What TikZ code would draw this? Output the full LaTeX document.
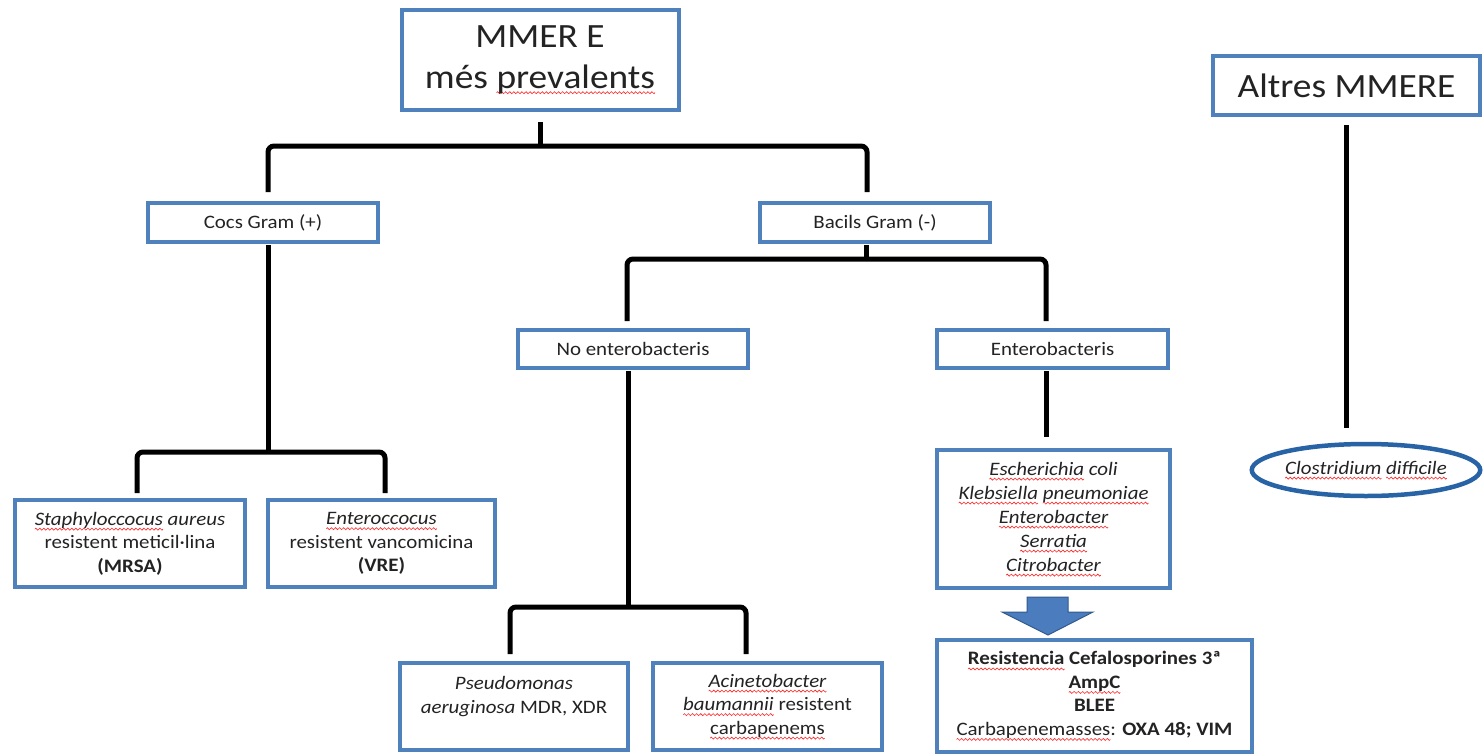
\documentclass[tikz,border=0pt]{standalone}
\usepackage{fontspec}
\setmainfont{Carlito}[FakeStretch=1.1]
\usetikzlibrary{shapes.geometric}
\definecolor{boxblue}{RGB}{79,129,189}
\definecolor{ellblue}{RGB}{40,100,165}
\definecolor{arrfill}{RGB}{75,125,190}
\definecolor{arrline}{RGB}{50,90,140}
\definecolor{txt}{RGB}{35,35,35}
\newsavebox\wavebox
\sbox\wavebox{\tikz[x=1pt,y=1pt]{\useasboundingbox (0,-1) rectangle (4,1); \draw[red!85!white,line width=0.6pt] (0,0) sin (1,1) cos (2,0) sin (3,-1) cos (4,0);}}
\newcommand\sq[1]{\setbox0\hbox{#1}\rlap{\raisebox{-5pt}{\hbox to\wd0{\xleaders\copy\wavebox\hfil}}}\box0\relax}
\newcommand\bigf{\fontsize{34}{41}\selectfont}
\newcommand\smf{\fontsize{19}{23.5}\selectfont}
\begin{document}
\begin{tikzpicture}[x=1pt,y=-1pt,
  bx/.style={draw=boxblue, line width=4pt, fill=white, inner sep=0pt, align=center, text=txt, font=\smf},
  conn/.style={draw=black, line width=5pt, rounded corners=6pt}]
\useasboundingbox (0,0) rectangle (1483,753);
\fill[white] (0,0) rectangle (1483,753);
% boxes
\node[bx, font=\bigf, minimum width=277pt, minimum height=100pt] (top) at (540,60) {MMER E\\més \sq{prevalents}};
\node[bx, font=\bigf, minimum width=267pt, minimum height=59pt] (altres) at (1346.5,85.5) {Altres MMERE};
\node[bx, minimum width=230pt, minimum height=39pt] (cocs) at (263,222.5) {Cocs Gram (+)};
\node[bx, minimum width=230pt, minimum height=39pt] (bacils) at (875,222.5) {Bacils Gram (-)};
\node[bx, minimum width=230pt, minimum height=38pt] (noent) at (633,349) {No enterobacteris};
\node[bx, minimum width=231pt, minimum height=38pt] (ent) at (1052.5,349) {Enterobacteris};
\node[bx, minimum width=230pt, minimum height=87pt] (staph) at (130,543.5) {\textit{\sq{Staphyloccocus} aureus}\\resistent meticil·lina\\\textbf{(MRSA)}};
\node[bx, minimum width=227pt, minimum height=87pt] (enteroc) at (381.5,543.5) {\textit{\sq{Enteroccocus}}\\resistent vancomicina\\\textbf{(VRE)}};
\node[bx, font=\fontsize{19}{24}\selectfont, minimum width=233pt, minimum height=138pt] (esch) at (1053.5,519) {\textit{\sq{Escherichia} coli}\\\textit{\sq{Klebsiella} \sq{pneumoniae}}\\\textit{\sq{Enterobacter}}\\\textit{\sq{Serratia}}\\\textit{\sq{Citrobacter}}};
\node[bx, minimum width=315pt, minimum height=112pt] (resist) at (1094.5,696) {\textbf{\sq{Resistencia} Cefalosporines 3ª}\\\textbf{\sq{AmpC}}\\\textbf{BLEE}\\\sq{Carbapenemasses}: \textbf{OXA 48; VIM}};
\node[bx, minimum width=228pt, minimum height=87pt] (pseudo) at (514,706.5) {\textit{Pseudomonas}\\\textit{aeruginosa} MDR, XDR\\\mbox{}};
\node[bx, minimum width=229pt, minimum height=87pt] (acin) at (767.5,706.5) {\textit{\sq{Acinetobacter}}\\\textit{\sq{baumannii}} resistent\\\sq{carbapenems}};
\node[ellipse, draw=ellblue, line width=4.5pt, fill=white, inner sep=0pt, text=txt, font=\smf, minimum width=224pt, minimum height=52pt] (clost) at (1366,470) {\textit{\sq{Clostridium} \sq{difficile}}};
% block arrow
\draw[fill=arrfill, draw=arrline, line width=1pt] (1027,597) -- (1068,597) -- (1068,612) -- (1093,612) -- (1048,635) -- (1002,612) -- (1027,612) -- cycle;
% junctions
\coordinate (j1) at (540,146);
\coordinate (j2) at (268,452);
\coordinate (j3) at (866,259);
\coordinate (j4) at (628,607);
% connectors
\draw[conn, shorten <=10pt] (top.south) -- (j1);
\draw[conn, shorten <=9pt, shorten >=9pt] ([xshift=5pt]cocs.north) |- (j1) -| ([xshift=-8pt]bacils.north);
\draw[conn, shorten <=1pt] ([xshift=5pt]cocs.south) -- (j2);
\draw[conn, shorten <=5pt, shorten >=5pt] ([xshift=7pt]staph.north) |- (j2) -| ([xshift=3.5pt]enteroc.north);
\draw[conn, shorten <=1pt] ([xshift=-9pt]bacils.south) -- (j3);
\draw[conn, shorten <=7pt, shorten >=7pt] ([xshift=-6pt]noent.north) |- (j3) -| ([xshift=-6.5pt]ent.north);
\draw[conn, shorten <=1pt] ([xshift=-5pt]noent.south) -- (j4);
\draw[conn, shorten <=7pt, shorten >=7pt] ([xshift=-4pt]pseudo.north) |- (j4) -| ([xshift=-21.5pt]acin.north);
\draw[conn, shorten <=1pt, shorten >=11pt] ([xshift=-6.5pt]ent.south) -- ([xshift=-7.5pt]esch.north);
\draw[conn, shorten <=8pt, shorten >=14pt] (altres.south) -- (altres.south |- clost.north);
\end{tikzpicture}
\end{document}
